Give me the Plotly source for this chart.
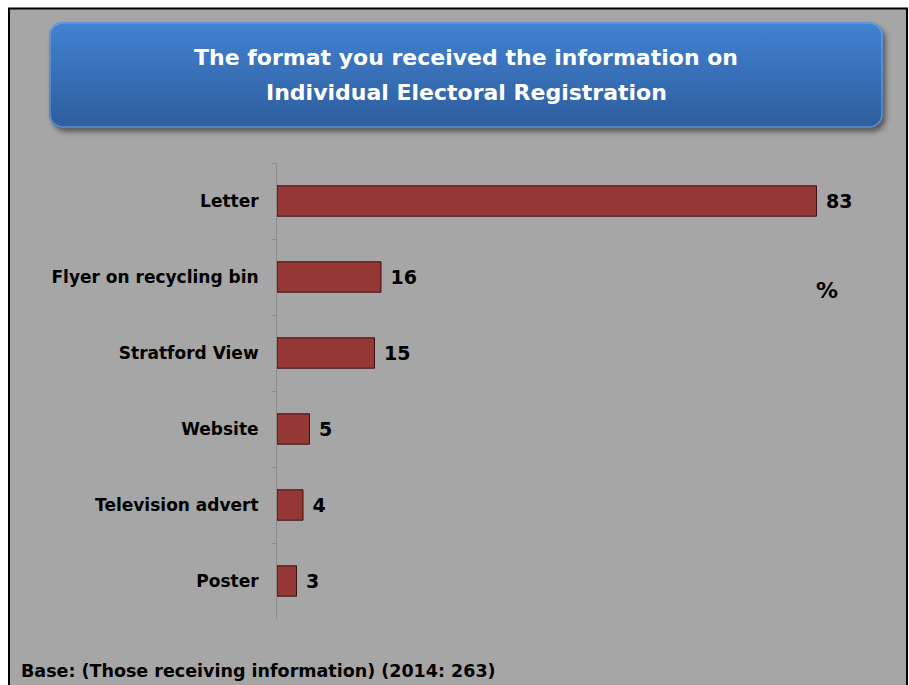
import base64
import plotly.graph_objects as go

categories = ["Letter", "Flyer on recycling bin", "Stratford View", "Website", "Television advert", "Poster"]
values = [83, 16, 15, 5, 4, 3]
title_lines = ["The format you received the information on", "Individual Electoral Registration"]
footer = "Base: (Those receiving information) (2014: 263)"

FIG_W, FIG_H = 909, 685
L, T, B = 277, 163, 66
XMAX = 90
PW = 585
R = FIG_W - L - PW
PH = FIG_H - T - B

FONT = "DejaVu Sans"

svg = f"""<svg xmlns='http://www.w3.org/2000/svg' width='{FIG_W}' height='{FIG_H}' viewBox='0 0 {FIG_W} {FIG_H}'>
<defs>
<linearGradient id='g' x1='0' y1='0' x2='0' y2='1'>
<stop offset='0' stop-color='#4282d2'/><stop offset='1' stop-color='#2d5d9d'/></linearGradient>
<filter id='s' x='-5%' y='-20%' width='110%' height='140%'><feGaussianBlur stdDeviation='2.5'/></filter>
</defs>
<rect x='0' y='0' width='{FIG_W}' height='{FIG_H}' fill='white'/>
<rect x='9' y='8.5' width='898' height='720' fill='#a6a6a6' stroke='black' stroke-width='2'/>
<rect x='52' y='26' width='834' height='106' rx='14' fill='#202020' opacity='0.55' filter='url(#s)'/>
<rect x='49' y='22' width='834' height='106' rx='14' fill='url(#g)'/>
<rect x='50' y='23' width='832' height='104' rx='13' fill='none' stroke='#7fb0ec' stroke-opacity='0.6' stroke-width='1.5'/>
</svg>"""
src = "data:image/svg+xml;base64," + base64.b64encode(svg.encode()).decode()


def px_x(px):
    return (px - L) / PW


def px_y(py):
    return 1 - (py - T) / PH


fig = go.Figure(go.Bar(
    x=values, y=categories, orientation="h",
    marker=dict(color="#953735", line=dict(color="#3a1212", width=1)),
    text=values, texttemplate=" %{x}", textposition="outside", cliponaxis=False,
    textfont=dict(family=FONT, size=19, color="black", weight="bold"),
    hoverinfo="skip",
))

annotations = [
    dict(text=line, xref="paper", yref="paper", x=px_x(466), y=px_y(py),
         xanchor="center", yanchor="middle", showarrow=False,
         font=dict(family=FONT, size=22, color="white", weight="bold"))
    for line, py in zip(title_lines, [57, 92])
]
annotations += [
    dict(text="%", xref="paper", yref="paper", x=px_x(827), y=px_y(290),
         xanchor="center", yanchor="middle", showarrow=False,
         font=dict(family=FONT, size=22, color="black", weight="bold")),
    dict(text=footer, xref="paper", yref="paper", x=px_x(19), y=px_y(671),
         xanchor="left", yanchor="middle", showarrow=False,
         font=dict(family=FONT, size=17.5, color="black", weight="bold")),
]

fig.update_layout(
    width=FIG_W, height=FIG_H,
    margin=dict(l=L, r=R, t=T, b=B, pad=0),
    paper_bgcolor="white", plot_bgcolor="rgba(0,0,0,0)",
    bargap=0.6, showlegend=False,
    font=dict(family=FONT, color="black"),
    xaxis=dict(range=[0, XMAX], visible=False, fixedrange=True),
    yaxis=dict(type="category", categoryorder="array", categoryarray=categories,
               autorange="reversed", tickson="boundaries", ticks="outside", ticklen=4,
               tickcolor="#8c8c8c", showline=True, linecolor="#8c8c8c", linewidth=1,
               showgrid=False, ticklabelstandoff=14, fixedrange=True,
               tickfont=dict(family=FONT, size=17, color="black", weight="bold")),
    images=[dict(source=src, xref="paper", yref="paper",
                 x=px_x(0), y=px_y(0), sizex=FIG_W / PW, sizey=FIG_H / PH,
                 xanchor="left", yanchor="top", sizing="stretch", layer="below")],
    annotations=annotations,
)

fig.write_html("out.html", config={"displayModeBar": False},
               post_script="document.body.style.margin='0';document.body.style.overflow='hidden';")
